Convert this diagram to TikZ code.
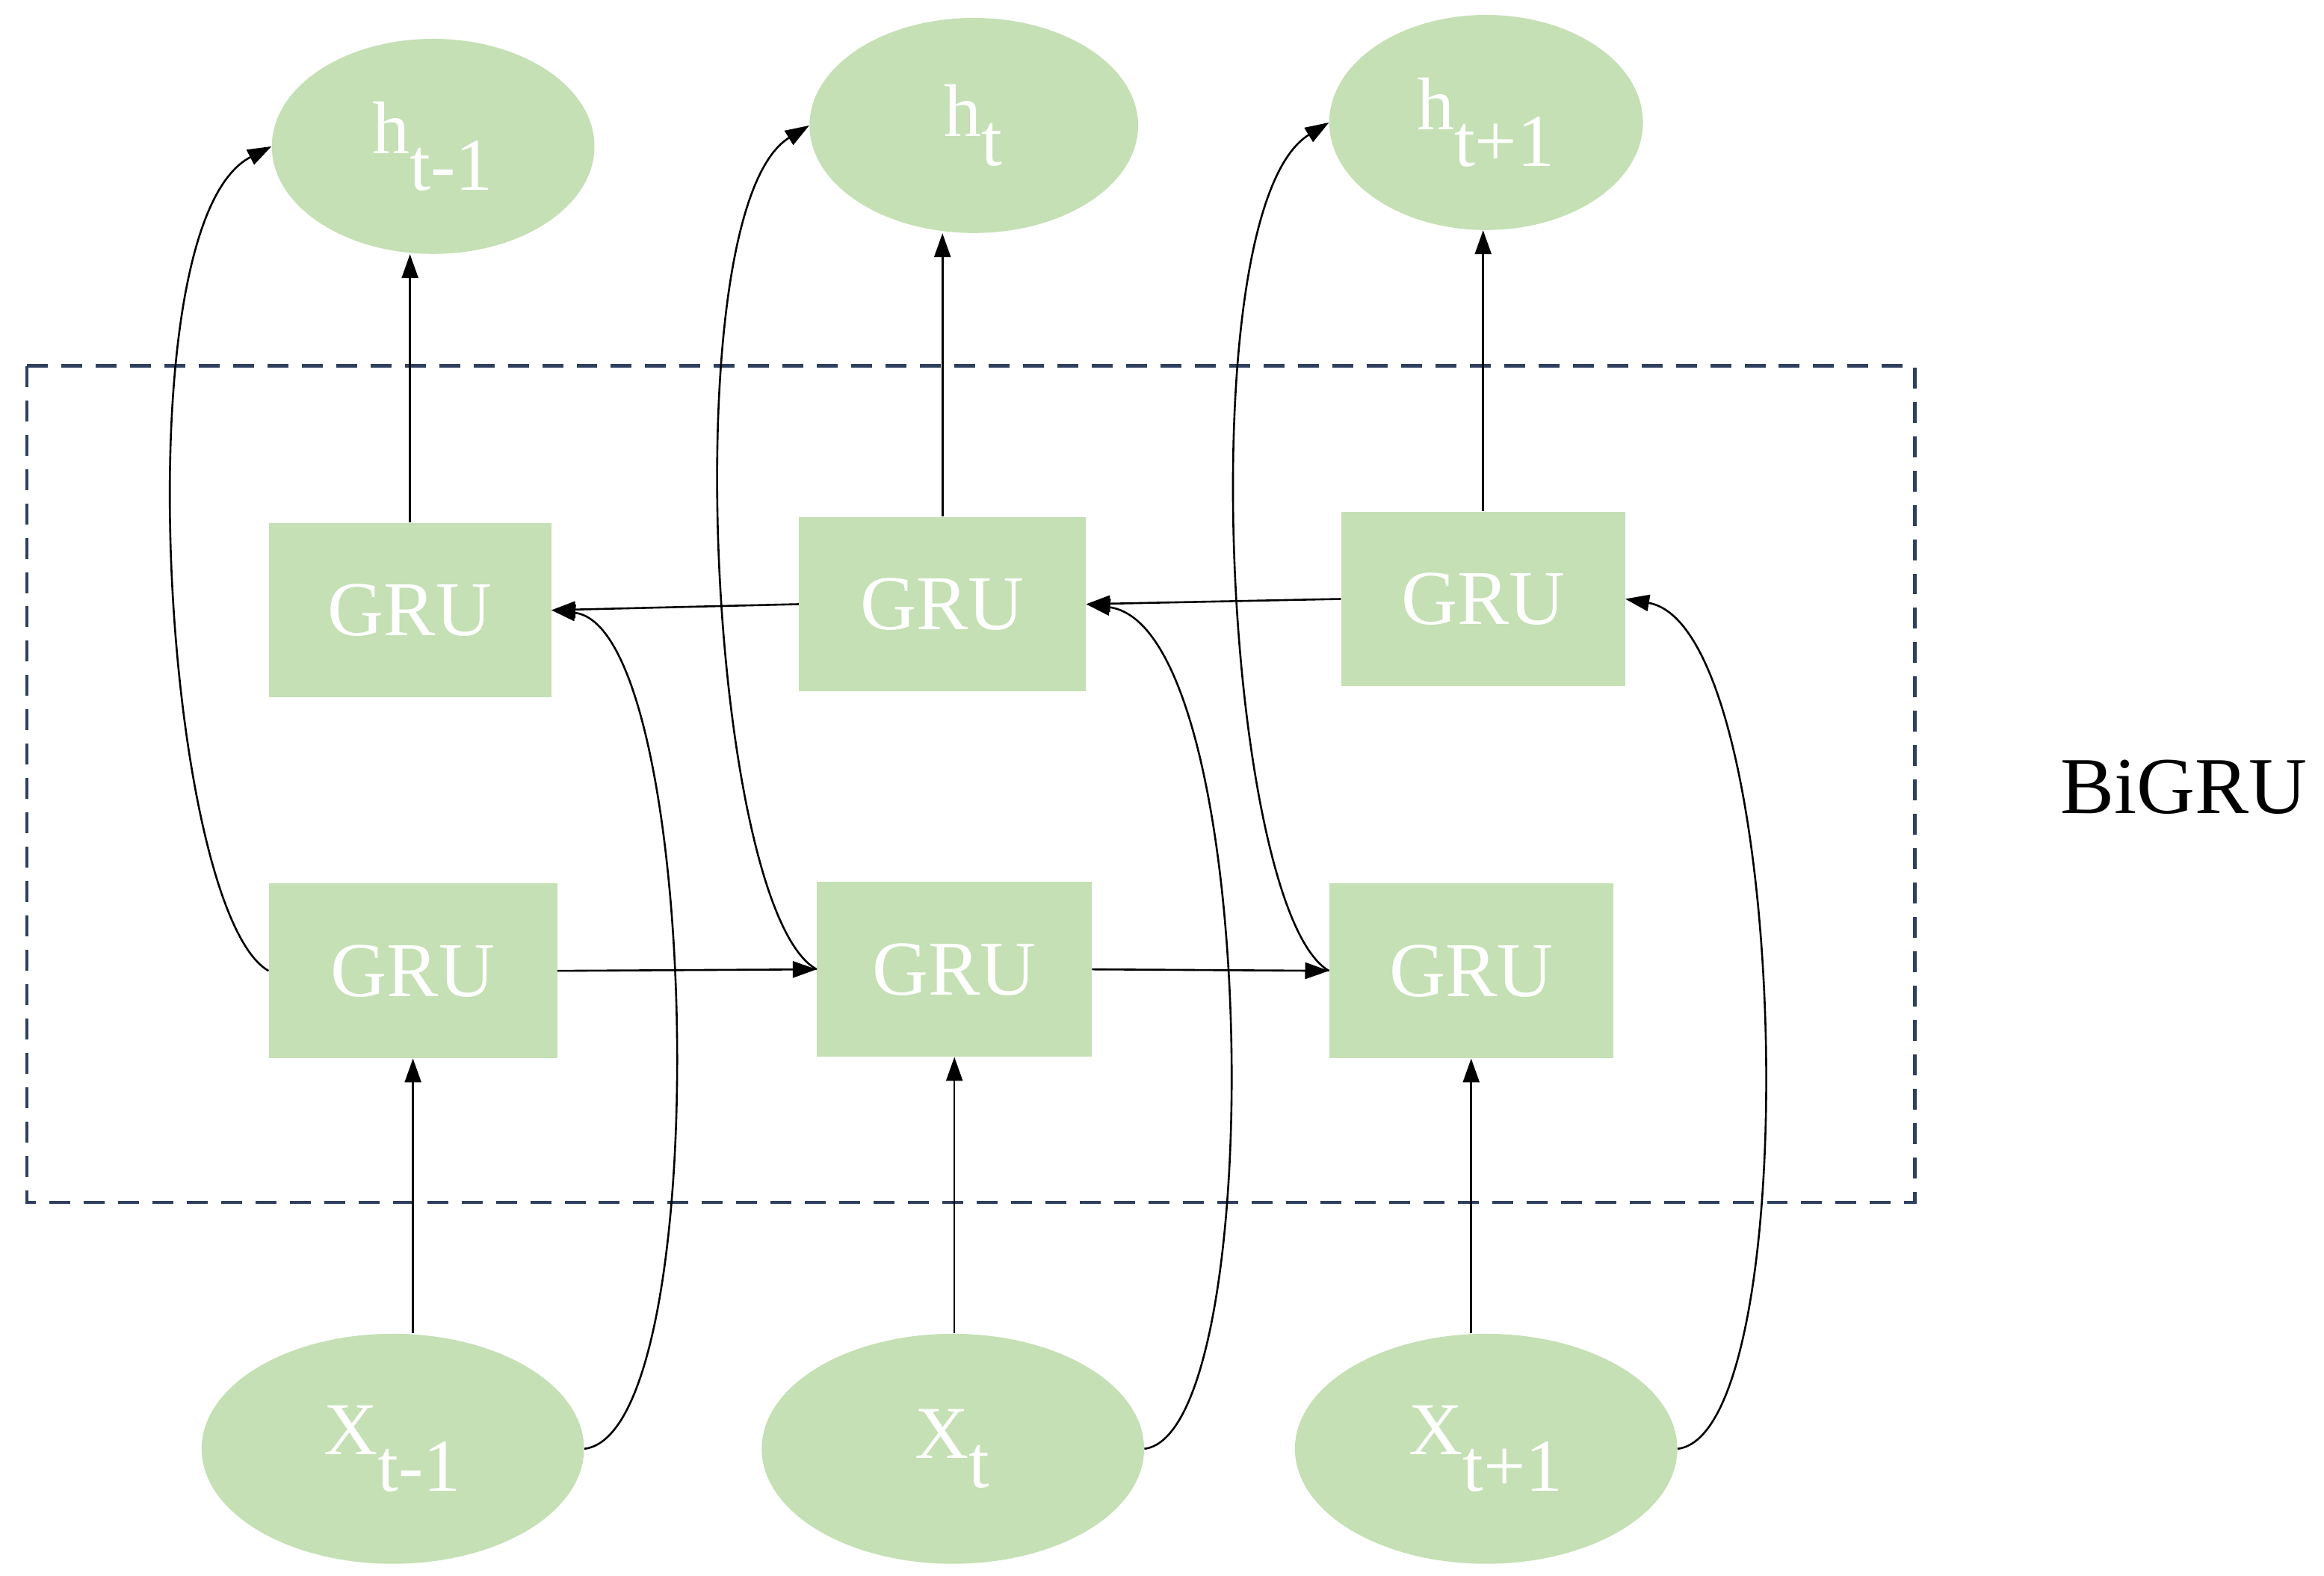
\documentclass[tikz,border=0pt]{standalone}
\usepackage{fontspec}
\setmainfont{Liberation Serif}
\usetikzlibrary{arrows.meta,shapes.geometric}
\definecolor{gfill}{HTML}{C5E0B4}
\definecolor{navy}{HTML}{2F3F5F}
\begin{document}
\begin{tikzpicture}[x=1pt,y=-1pt,
  el/.style={ellipse,fill=gfill,text=white,font=\fontsize{50}{60}\selectfont},
  bx/.style={fill=gfill,text=white,font=\fontsize{52}{60}\selectfont,minimum height=117pt},
  ar/.style={-{Triangle[length=16pt,width=11pt]},line width=1.3pt}]
\useasboundingbox (0,0) rectangle (1556,1055);
\draw[navy,line width=2.2pt,dash pattern=on 14pt off 9pt] (18,245) rectangle (1282,805);
\node[font=\fontsize{54}{60}\selectfont] (bi) at (1462,527) {BiGRU};
\node[el,minimum width=216pt,minimum height=144pt] (h1) at (290,98) {h$_{\textrm{t-1}}$};
\node[el,minimum width=220pt,minimum height=144pt] (h2) at (652,84) {h$_{\textrm{t}}$};
\node[el,minimum width=210pt,minimum height=144pt] (h3) at (995,82) {h$_{\textrm{t+1}}$};
\node[bx,minimum width=189pt] (t1) at (274.5,408.5) {GRU};
\node[bx,minimum width=192pt] (t2) at (631,404.5) {GRU};
\node[bx,minimum width=190pt] (t3) at (993,401) {GRU};
\node[bx,minimum width=193pt] (b1) at (276.5,650) {GRU};
\node[bx,minimum width=184pt] (b2) at (639,649) {GRU};
\node[bx,minimum width=190pt] (b3) at (985,650) {GRU};
\node[el,minimum width=256pt,minimum height=154pt] (x1) at (263,970) {X$_{\textrm{t-1}}$};
\node[el,minimum width=256pt,minimum height=154pt] (x2) at (638,970) {X$_{\textrm{t}}$};
\node[el,minimum width=256pt,minimum height=154pt] (x3) at (995,970) {X$_{\textrm{t+1}}$};
% vertical
\draw[ar] (x1.north -| b1) -- (b1.south);
\draw[ar] (x2.north -| b2) -- (b2.south);
\draw[ar] (x3.north -| b3) -- (b3.south);
\draw[ar] (t1.north) -- (h1.south -| t1);
\draw[ar] (t2.north) -- (h2.south -| t2);
\draw[ar] (t3.north) -- (h3.south -| t3);
% horizontal
\draw[ar] (b1.east) -- (b2.west);
\draw[ar] (b2.east) -- (b3.west);
\draw[ar] (t2.west) -- (t1.east);
\draw[ar] (t3.west) -- (t2.east);
% curves forward
\draw[ar] (b1.west) .. controls (110,610) and (80,150) .. (h1.west);
\draw[ar] (b2.west) .. controls (475,610) and (450,140) .. (h2.west);
\draw[ar] (b3.west) .. controls (820,610) and (795,140) .. (h3.west);
% curves backward
\draw[ar] (x1.east) .. controls (480,960) and (470,420) .. (t1.east);
\draw[ar] (x2.east) .. controls (850,960) and (845,420) .. (t2.east);
\draw[ar] (x3.east) .. controls (1210,960) and (1200,420) .. (t3.east);
\end{tikzpicture}
\end{document}
